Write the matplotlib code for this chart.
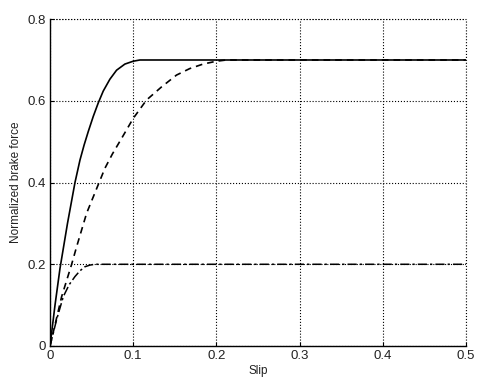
import matplotlib
matplotlib.use('Agg')
import matplotlib.pyplot as plt

# curves (slip vs normalized brake force)
solid_x = [0, 0.006, 0.012, 0.021, 0.030, 0.036, 0.041, 0.046, 0.052, 0.058,
           0.064, 0.072, 0.080, 0.090, 0.100, 0.108, 0.5]
solid_y = [0, 0.10, 0.19, 0.30, 0.4, 0.455, 0.492, 0.525, 0.562, 0.595,
           0.624, 0.653, 0.675, 0.690, 0.697, 0.7, 0.7]

dashed_x = [0, 0.014, 0.026, 0.032, 0.044, 0.059, 0.066, 0.075, 0.086, 0.100,
            0.116, 0.134, 0.152, 0.168, 0.184, 0.200, 0.212, 0.5]
dashed_y = [0, 0.121, 0.2, 0.243, 0.325, 0.4, 0.435, 0.47, 0.508, 0.557,
            0.602, 0.634, 0.663, 0.679, 0.690, 0.697, 0.7, 0.7]

dashdot_x = [0, 0.008, 0.016, 0.023, 0.030, 0.036, 0.042, 0.048, 0.054, 0.5]
dashdot_y = [0, 0.065, 0.121, 0.150, 0.170, 0.184, 0.194, 0.198, 0.2, 0.2]

xticks = [0, 0.1, 0.2, 0.3, 0.4, 0.5]
yticks = [0, 0.2, 0.4, 0.6, 0.8]

plt.rcParams['font.family'] = ['Liberation Sans', 'DejaVu Sans']

fig = plt.figure(figsize=(4.87, 3.85), dpi=100)
ax = fig.add_axes([0.1027, 0.1013, 0.854, 0.849])

ax.plot(solid_x, solid_y, color='black', lw=1.2, ls='-')
ax.plot(dashed_x, dashed_y, color='black', lw=1.2, ls=(0, (4, 3)))
ax.plot(dashdot_x, dashdot_y, color='black', lw=1.1, ls=(0, (6, 2, 1.5, 2)))

ax.set_xlim(0, 0.5)
ax.set_ylim(0, 0.8)
ax.set_xticks(xticks)
ax.set_yticks(yticks)
ax.set_xticklabels(['0', '0.1', '0.2', '0.3', '0.4', '0.5'])
ax.set_yticklabels(['0', '0.2', '0.4', '0.6', '0.8'])
ax.tick_params(direction='in', length=3, width=0.8, labelsize=9.5, pad=3,
               colors='black', labelcolor='#222222')

ax.grid(True, color='black', ls=':', lw=0.8)
ax.spines['top'].set_visible(False)
ax.spines['right'].set_visible(False)
for s in ['left', 'bottom']:
    ax.spines[s].set_linewidth(1.0)

# dotted border lines on top and right like the grid
ax.axhline(0.8, color='black', ls=':', lw=0.8, clip_on=False)
ax.axvline(0.5, color='black', ls=':', lw=0.8, clip_on=False)

ax.set_xlabel('Slip', fontsize=8.5, labelpad=2, color='#222222')
ax.set_ylabel('Normalized brake force', fontsize=8.5, labelpad=4, color='#222222')

fig.savefig('out.png', dpi=100)
